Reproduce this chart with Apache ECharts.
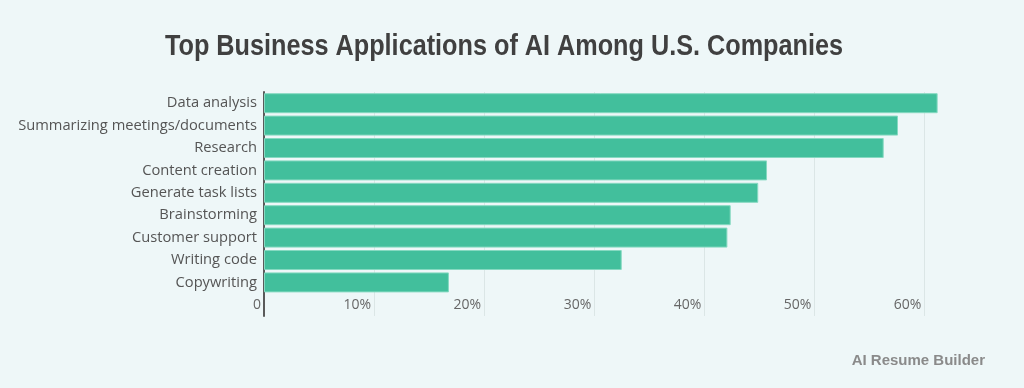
<!DOCTYPE html>
<html>
<head>
<meta charset="utf-8">
<script src="https://cdn.jsdelivr.net/npm/echarts@6/dist/echarts.min.js"></script>
<style>
html,body{margin:0;padding:0;background:#eef7f8;}
#c{width:1024px;height:388px;}
</style>
</head>
<body>
<div id="c"></div>
<script>
const categories = ['Data analysis','Summarizing meetings/documents','Research','Content creation','Generate task lists','Brainstorming','Customer support','Writing code','Copywriting'];
const values = [61.2, 57.6, 56.3, 45.7, 44.9, 42.4, 42.1, 32.5, 16.8];
const xTicks = [0, 10, 20, 30, 40, 50, 60];

const chart = echarts.init(document.getElementById('c'), null, {renderer:'canvas'});
chart.setOption({
  backgroundColor:'#eef7f8',
  animation:false,
  graphic:[{
    type:'text', x:504, y:47, scaleX:0.87,
    style:{text:'Top Business Applications of AI Among U.S. Companies', align:'center', verticalAlign:'middle',
      fontFamily:'Liberation Sans, sans-serif', fontWeight:'bold', fontSize:29, fill:'#404040'}
  },{
    type:'text', right:39, top:353,
    style:{text:'AI Resume Builder', fontFamily:'Liberation Sans, sans-serif', fontWeight:'bold', fontSize:15, fill:'#8a8a8a'}
  }],
  grid:{left:264, width:770.5, top:92, height:224, containLabel:false, outerBoundsMode:'none'},
  xAxis:{
    type:'value', min:0, max:70, interval:10,
    axisLine:{show:false}, axisTick:{show:false},
    splitLine:{show:true, lineStyle:{color:'#dbe6e6', width:1}},
    axisLabel:{
      inside:true, margin:4, align:'right', padding:[0,3,0,0],
      showMaxLabel:false,
      fontFamily:'Open Sans, sans-serif', fontSize:14, color:'#666',
      formatter:function(v){ if(xTicks.indexOf(v)<0) return ''; return v===0?'0':v+'%'; }
    }
  },
  yAxis:{
    type:'category', inverse:true,
    data:categories.concat(['']),
    axisLine:{show:true, lineStyle:{color:'#5a5a5a', width:2}},
    axisTick:{show:false},
    axisLabel:{margin:7, fontFamily:'Open Sans, sans-serif', fontSize:14.7, color:'#555'}
  },
  series:[{
    type:'bar',
    data:values.concat([null]),
    barWidth:20,
    itemStyle:{color:'#42bf9c', borderColor:'#86d9c1', borderWidth:1}
  }]
});
</script>
</body>
</html>
